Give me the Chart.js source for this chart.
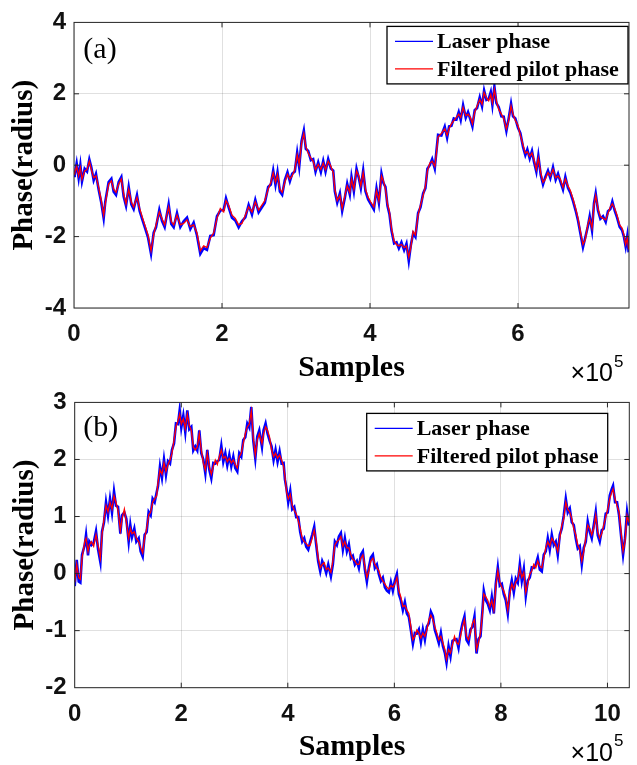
<!DOCTYPE html>
<html><head><meta charset="utf-8">
<script src="https://cdn.jsdelivr.net/npm/chart.js@4.4.1/dist/chart.umd.min.js"></script>
<style>
html,body{margin:0;padding:0;background:#fff;}
#wrap{position:relative;width:637px;height:765px;overflow:hidden;background:#fff;}
canvas{position:absolute;left:0;}
#cA{top:0;}
#cB{top:380px;}
</style></head><body>
<div id="wrap"><canvas id="cA" width="637" height="390"></canvas><canvas id="cB" width="637" height="385"></canvas></div>
<script>
// ---------- data (x in units of 10^5 samples) ----------
const seriesNames = ['Laser phase', 'Filtered pilot phase'];
const xTitle = 'Samples';
const yTitle = 'Phase(radius)';

const xTicksA = [0, 2, 4, 6];
const yTicksA = [-4, -2, 0, 2, 4];
const xTicksB = [0, 2, 4, 6, 8, 10];
const yTicksB = [-2, -1, 0, 1, 2, 3];

const samplesA = [
0,0.009,0.036,0.063,0.086,0.108,0.144,0.176,0.207,0.234,
0.266,0.297,0.333,0.369,0.401,0.423,0.468,0.505,0.536,0.568,
0.604,0.640,0.671,0.703,0.739,0.775,0.806,0.851,0.887,0.928,
0.964,1.000,1.041,1.077,1.108,1.153,1.189,1.225,1.279,1.315,
1.347,1.392,1.437,1.482,1.527,1.572,1.617,1.662,1.707,1.752,
1.797,1.842,1.887,1.932,1.977,2.023,2.054,2.090,2.135,2.180,
2.225,2.270,2.315,2.360,2.405,2.450,2.495,2.579,2.624,2.660,
2.692,2.723,2.750,2.782,2.813,2.849,2.885,2.917,2.948,2.984,
3.016,3.043,3.075,3.106,3.133,3.165,3.201,3.232,3.264,3.300,
3.336,3.368,3.399,3.435,3.471,3.503,3.525,3.557,3.593,3.624,
3.660,3.692,3.727,3.750,3.782,3.818,3.849,3.876,3.908,3.939,
3.975,4.011,4.052,4.088,4.120,4.155,4.182,4.209,4.236,4.263,
4.290,4.326,4.358,4.390,4.425,4.461,4.493,4.524,4.551,4.583,
4.614,4.650,4.682,4.718,4.749,4.776,4.808,4.840,4.875,4.898,
4.920,4.965,5.010,5.042,5.069,5.100,5.132,5.168,5.199,5.226,
5.258,5.294,5.325,5.357,5.384,5.415,5.447,5.483,5.514,5.542,
5.573,5.604,5.632,5.654,5.681,5.708,5.739,5.775,5.807,5.843,
5.874,5.906,5.933,5.964,6.000,6.032,6.068,6.099,6.126,6.158,
6.189,6.216,6.248,6.275,6.307,6.338,6.370,6.405,6.437,6.473,
6.509,6.541,6.572,6.608,6.640,6.676,6.707,6.743,6.779,6.811,
6.843,6.878,6.910,6.942,6.969,7.000,7.027,7.050,7.081,7.113,
7.149,7.185,7.216,7.248,7.275,7.307,7.338,7.374,7.406,7.432,
7.455,7.477,7.495];

const filteredA = [
-0.25,-0.21,-0.03,-0.30,-0.07,-0.39,-0.16,-0.12,0.11,-0.12,
-0.35,-0.30,-0.62,-0.99,-1.40,-1.08,-0.53,-0.44,-0.67,-0.76,
-0.53,-0.39,-0.80,-1.08,-0.67,-1.03,-1.17,-0.90,-1.21,-1.49,
-1.72,-1.95,-2.40,-1.95,-1.67,-1.31,-1.49,-1.67,-1.17,-1.58,
-1.67,-1.40,-1.67,-1.63,-1.53,-1.72,-1.67,-1.90,-2.40,-2.26,
-2.31,-2.04,-1.90,-1.49,-1.21,-1.31,-0.99,-1.12,-1.40,-1.49,
-1.67,-1.63,-1.40,-1.17,-1.31,-1.03,-1.26,-0.99,-0.67,-0.48,
-0.21,-0.48,-0.26,-0.67,-0.76,-0.48,-0.26,-0.39,-0.30,-0.12,
0.29,0.02,0.61,0.89,0.52,0.34,0.20,0.11,-0.12,0.02,
-0.12,0.06,-0.12,0.11,-0.03,-0.21,-0.67,-0.99,-0.85,-1.21,
-0.85,-0.58,-0.76,-0.39,-0.67,-0.16,-0.30,-0.58,-0.21,-0.67,
-0.90,-1.03,-1.17,-0.71,-0.99,-0.30,-0.44,-0.67,-1.08,-1.31,
-1.76,-2.13,-2.22,-2.26,-2.22,-2.31,-2.26,-2.58,-2.31,-1.85,
-1.95,-1.40,-1.12,-0.85,-0.58,-0.16,0.06,0.11,-0.03,0.34,
0.79,0.89,1.02,0.84,1.02,1.16,1.25,1.34,1.43,1.34,
1.62,1.39,1.43,1.34,1.16,1.48,1.66,1.84,1.71,2.03,
1.89,1.80,1.98,1.75,2.12,1.80,1.57,1.43,1.30,1.02,
1.25,1.66,1.43,1.25,1.11,0.84,0.57,0.34,0.38,0.25,
0.34,0.16,-0.12,0.20,-0.21,-0.48,-0.39,-0.21,-0.30,-0.12,
-0.35,-0.30,-0.39,-0.62,-0.39,-0.58,-0.71,-0.94,-1.21,-1.49,
-1.85,-2.22,-2.08,-1.67,-1.49,-1.76,-1.12,-0.85,-1.21,-1.44,
-1.49,-1.53,-1.35,-1.17,-1.08,-1.21,-1.40,-1.67,-1.76,-1.95,
-2.22,-2.04,-2.36];

const laserA = [
-0.30,-0.28,0.05,-0.36,0.00,-0.45,-0.10,-0.18,0.16,-0.06,
-0.42,-0.24,-0.68,-1.05,-1.48,-1.02,-0.47,-0.38,-0.74,-0.83,
-0.47,-0.33,-0.88,-1.14,-0.61,-1.10,-1.23,-0.84,-1.28,-1.55,
-1.78,-2.02,-2.48,-1.89,-1.74,-1.25,-1.56,-1.73,-1.10,-1.65,
-1.74,-1.34,-1.73,-1.57,-1.47,-1.79,-1.61,-1.97,-2.48,-2.32,
-2.37,-1.98,-1.96,-1.43,-1.27,-1.25,-0.93,-1.18,-1.47,-1.55,
-1.74,-1.57,-1.46,-1.11,-1.38,-0.97,-1.32,-1.05,-0.61,-0.54,
-0.15,-0.55,-0.20,-0.74,-0.83,-0.42,-0.20,-0.45,-0.24,-0.18,
0.35,-0.05,0.67,0.97,0.46,0.40,0.14,0.17,-0.18,0.08,
-0.19,0.12,-0.18,0.17,-0.09,-0.15,-0.73,-1.05,-0.79,-1.28,
-0.91,-0.52,-0.82,-0.33,-0.73,-0.10,-0.36,-0.64,-0.15,-0.73,
-0.96,-1.09,-1.24,-0.65,-1.05,-0.24,-0.50,-0.61,-1.14,-1.37,
-1.82,-2.19,-2.16,-2.33,-2.16,-2.38,-2.20,-2.68,-2.25,-1.91,
-2.01,-1.34,-1.18,-0.79,-0.64,-0.10,0.00,0.17,-0.09,0.40,
0.85,0.83,1.08,0.77,1.09,1.10,1.31,1.28,1.49,1.27,
1.68,1.33,1.49,1.28,1.09,1.54,1.60,1.90,1.65,2.09,
1.83,1.86,2.05,1.69,2.20,1.74,1.63,1.37,1.36,0.96,
1.31,1.72,1.37,1.31,1.05,0.90,0.51,0.28,0.44,0.19,
0.40,0.10,-0.18,0.26,-0.27,-0.54,-0.33,-0.15,-0.36,-0.06,
-0.41,-0.24,-0.45,-0.68,-0.33,-0.64,-0.77,-1.00,-1.27,-1.55,
-1.91,-2.30,-2.02,-1.73,-1.43,-1.82,-1.06,-0.79,-1.27,-1.50,
-1.43,-1.59,-1.29,-1.23,-1.02,-1.27,-1.46,-1.73,-1.82,-2.01,
-2.28,-1.98,-2.44];

const samplesB = [
0.000,0.038,0.075,0.106,0.138,0.188,0.213,0.250,0.275,0.313,
0.356,0.400,0.438,0.482,0.513,0.550,0.588,0.625,0.663,0.700,
0.738,0.775,0.813,0.857,0.888,0.932,0.969,1.013,1.044,1.076,
1.119,1.157,1.201,1.238,1.276,1.313,1.351,1.388,1.426,1.463,
1.501,1.538,1.563,1.601,1.638,1.676,1.713,1.751,1.789,1.826,
1.864,1.901,1.939,1.970,2.001,2.039,2.076,2.114,2.151,2.189,
2.226,2.264,2.301,2.339,2.376,2.414,2.452,2.489,2.527,2.564,
2.602,2.639,2.677,2.714,2.752,2.789,2.827,2.864,2.902,2.939,
2.977,3.014,3.052,3.089,3.127,3.164,3.202,3.240,3.277,3.315,
3.352,3.390,3.427,3.465,3.515,3.545,3.583,3.620,3.658,3.695,
3.733,3.770,3.808,3.846,3.883,3.921,3.946,3.977,4.008,4.046,
4.083,4.121,4.158,4.196,4.233,4.271,4.308,4.346,4.383,4.421,
4.458,4.496,4.534,4.571,4.609,4.646,4.684,4.721,4.759,4.809,
4.846,4.884,4.921,4.959,4.996,5.034,5.071,5.109,5.146,5.184,
5.221,5.259,5.297,5.334,5.372,5.409,5.447,5.484,5.522,5.559,
5.597,5.634,5.672,5.709,5.747,5.784,5.822,5.860,5.897,5.935,
5.972,6.010,6.047,6.085,6.122,6.160,6.197,6.235,6.272,6.310,
6.348,6.385,6.423,6.460,6.498,6.535,6.573,6.610,6.648,6.685,
6.723,6.760,6.798,6.835,6.873,6.911,6.948,6.979,7.017,7.054,
7.092,7.129,7.166,7.204,7.241,7.279,7.316,7.354,7.391,7.429,
7.467,7.504,7.542,7.579,7.617,7.654,7.679,7.717,7.754,7.792,
7.829,7.867,7.904,7.942,7.979,8.017,8.054,8.092,8.129,8.167,
8.204,8.242,8.279,8.317,8.355,8.392,8.430,8.467,8.505,8.542,
8.580,8.617,8.655,8.692,8.730,8.767,8.805,8.842,8.880,8.917,
8.955,8.992,9.030,9.067,9.105,9.143,9.180,9.218,9.255,9.293,
9.330,9.368,9.405,9.443,9.480,9.518,9.555,9.593,9.630,9.668,
9.705,9.743,9.780,9.818,9.855,9.893,9.930,9.968,10.005,10.043,
10.080,10.105,10.143,10.180,10.218,10.255,10.293,10.330,10.368,10.405];

const filteredB = [
-0.15,0.16,-0.07,-0.10,0.27,0.56,0.62,0.39,0.50,0.56,
0.48,0.68,0.50,0.27,0.68,0.96,1.19,1.08,1.25,1.13,
1.36,1.25,1.11,0.76,0.96,1.13,0.90,0.62,0.79,0.70,
0.73,0.62,0.56,0.45,0.36,0.62,0.79,1.02,1.08,1.25,
1.31,1.36,1.59,1.82,1.74,1.94,1.79,1.91,1.99,2.11,
2.34,2.57,2.68,2.79,2.62,2.71,2.54,2.79,2.59,2.51,
2.22,2.17,2.22,2.45,2.17,1.94,1.82,2.11,1.88,1.74,
1.88,1.99,1.91,2.05,2.17,2.02,2.05,1.96,2.02,1.94,
1.99,1.91,1.85,2.05,2.11,2.28,2.45,2.57,2.62,2.85,
2.39,2.08,2.34,2.45,2.28,2.45,2.57,2.51,2.39,2.17,
2.05,2.11,2.02,2.08,1.99,1.88,1.71,1.42,1.31,1.39,
1.19,1.11,1.05,0.93,0.79,0.62,0.56,0.53,0.48,0.50,
0.62,0.76,0.56,0.27,0.10,0.16,0.19,0.07,0.10,0.02,
0.22,0.50,0.56,0.59,0.65,0.48,0.56,0.45,0.45,0.33,
0.25,0.22,0.16,0.16,0.27,0.33,0.13,-0.07,0.05,0.22,
0.27,0.16,0.10,0.05,-0.07,-0.13,-0.18,-0.24,-0.27,-0.21,
-0.24,-0.18,-0.07,-0.30,-0.41,-0.58,-0.56,-0.64,-0.70,-0.93,
-1.16,-1.10,-0.99,-1.04,-1.13,-1.04,-1.10,-0.99,-0.81,-0.73,
-0.81,-0.93,-1.04,-1.16,-1.10,-1.21,-1.33,-1.50,-1.33,-1.39,
-1.24,-1.10,-1.21,-1.24,-1.10,-0.93,-0.81,-1.10,-1.16,-1.04,
-0.87,-0.81,-1.33,-1.21,-1.04,-0.70,-0.36,-0.41,-0.47,-0.58,
-0.47,-0.64,-0.24,0.05,-0.15,-0.24,-0.30,-0.41,-0.64,-0.36,
-0.18,-0.27,-0.15,-0.10,0.10,-0.07,0.02,-0.33,-0.18,-0.01,
0.05,0.16,0.10,0.22,0.13,0.10,0.27,0.45,0.56,0.48,
0.62,0.56,0.50,0.39,0.62,0.85,0.96,1.25,1.13,1.08,
0.96,0.79,0.68,0.50,0.42,0.22,0.39,0.62,0.85,0.79,
0.68,0.79,1.02,0.73,0.62,0.70,0.85,0.99,1.13,1.31,
1.42,1.48,1.31,1.19,1.08,0.73,0.39,0.56,1.02,0.90];

const laserB = [
-0.22,0.24,-0.14,-0.16,0.33,0.50,0.68,0.32,0.56,0.50,
0.54,0.74,0.43,0.20,0.74,0.90,1.25,1.02,1.31,1.07,
1.44,1.19,1.17,0.70,1.02,1.07,0.96,0.56,0.85,0.64,
0.79,0.56,0.62,0.39,0.30,0.68,0.73,1.08,1.02,1.31,
1.25,1.42,1.53,1.88,1.68,2.00,1.73,1.97,1.93,2.17,
2.28,2.63,2.62,2.86,2.56,2.77,2.48,2.86,2.53,2.57,
2.16,2.23,2.16,2.51,2.11,2.00,1.76,2.17,1.82,1.67,
1.94,1.93,1.97,1.99,2.24,1.96,2.11,1.90,2.08,1.88,
2.05,1.85,1.79,2.11,2.05,2.34,2.39,2.63,2.56,2.92,
2.33,2.02,2.40,2.51,2.22,2.51,2.63,2.45,2.33,2.23,
1.99,2.17,1.96,2.14,1.93,1.94,1.65,1.48,1.25,1.45,
1.13,1.17,0.99,0.99,0.73,0.56,0.62,0.47,0.42,0.56,
0.68,0.82,0.50,0.21,0.04,0.22,0.13,0.01,0.16,-0.05,
0.16,0.56,0.50,0.65,0.71,0.42,0.62,0.39,0.51,0.27,
0.31,0.16,0.22,0.10,0.33,0.39,0.07,-0.14,0.11,0.28,
0.33,0.10,0.16,-0.01,-0.13,-0.07,-0.24,-0.30,-0.33,-0.15,
-0.30,-0.12,-0.01,-0.36,-0.47,-0.64,-0.50,-0.70,-0.76,-0.99,
-1.23,-1.04,-1.05,-0.98,-1.20,-0.98,-1.16,-0.93,-0.87,-0.67,
-0.75,-0.99,-1.10,-1.22,-1.04,-1.27,-1.39,-1.56,-1.27,-1.45,
-1.18,-1.16,-1.15,-1.30,-1.04,-0.87,-0.75,-1.16,-1.22,-0.98,
-0.93,-0.75,-1.40,-1.15,-1.10,-0.64,-0.30,-0.47,-0.53,-0.64,
-0.41,-0.70,-0.18,0.11,-0.21,-0.18,-0.36,-0.47,-0.70,-0.30,
-0.12,-0.33,-0.09,-0.16,0.16,-0.13,0.08,-0.39,-0.12,-0.07,
0.11,0.10,0.16,0.28,0.07,0.04,0.33,0.39,0.62,0.42,
0.68,0.50,0.56,0.33,0.68,0.79,1.02,1.31,1.07,1.14,
0.90,0.85,0.62,0.44,0.48,0.16,0.45,0.56,0.91,0.73,
0.62,0.85,1.08,0.67,0.56,0.76,0.79,1.05,1.07,1.37,
1.48,1.54,1.25,1.25,1.02,0.67,0.33,0.62,1.08,0.84];

// ---------- plugins ----------
const framePlugin = {
  id: 'frame',
  afterDatasetsDraw(chart) {
    const {ctx, chartArea: a, scales: {x, y}} = chart;
    ctx.save();
    ctx.strokeStyle = '#262626';
    ctx.lineWidth = 1;
    ctx.strokeRect(a.left, a.top, a.right - a.left, a.bottom - a.top);
    ctx.beginPath();
    const L = 5;
    x.ticks.forEach(t => {
      if (t.value <= x.min || t.value >= x.max) return;
      const px = x.getPixelForValue(t.value);
      ctx.moveTo(px, a.bottom); ctx.lineTo(px, a.bottom - L);
      ctx.moveTo(px, a.top); ctx.lineTo(px, a.top + L);
    });
    y.ticks.forEach(t => {
      if (t.value <= y.min || t.value >= y.max) return;
      const py = y.getPixelForValue(t.value);
      ctx.moveTo(a.left, py); ctx.lineTo(a.left + L, py);
      ctx.moveTo(a.right, py); ctx.lineTo(a.right - L, py);
    });
    ctx.stroke();
    ctx.restore();
  }
};

const legendBoxPlugin = {
  id: 'legendBox',
  afterDraw(chart, args, o) {
    const {ctx, chartArea: a} = chart;
    const w = 241, h = 57.5;
    const bx = a.right - o.offRight - w, by = a.top + o.offTop;
    ctx.save();
    ctx.fillStyle = '#fff';
    ctx.fillRect(bx, by, w, h);
    ctx.strokeStyle = '#000';
    ctx.lineWidth = 1.3;
    ctx.strokeRect(bx, by, w, h);
    ctx.font = 'bold 22px "Liberation Serif"';
    ctx.textAlign = 'left';
    ctx.textBaseline = 'middle';
    chart.data.datasets.forEach((ds, i) => {
      const ry = by + 15 + i * 27.5;
      ctx.strokeStyle = ds.borderColor;
      ctx.lineWidth = 1.3;
      ctx.beginPath(); ctx.moveTo(bx + 8, ry); ctx.lineTo(bx + 46, ry); ctx.stroke();
      ctx.fillStyle = '#000';
      ctx.fillText(ds.label, bx + 50, ry + 1);
    });
    ctx.restore();
  }
};

const annotPlugin = {
  id: 'annot',
  afterDraw(chart, args, o) {
    const {ctx, chartArea: a} = chart;
    ctx.save();
    ctx.fillStyle = '#000';
    ctx.font = '30px "Liberation Serif"';
    ctx.textAlign = 'center';
    ctx.textBaseline = 'middle';
    ctx.fillText(o.tag, a.left + 26, a.top + o.tagDy);
    // x10^5 exponent
    const ey = a.bottom + 66;
    ctx.font = '25px "Liberation Sans"';
    ctx.textAlign = 'right';
    ctx.fillText('\u00d710', 613, ey);
    ctx.font = '17px "Liberation Sans"';
    ctx.textAlign = 'left';
    ctx.fillText('5', 614, ey - 12);
    ctx.restore();
  }
};

const tickFont = {family: '"Liberation Sans", Arial, sans-serif', weight: 'bold', size: 24};
const titleFont = {family: '"Liberation Serif", "Times New Roman", serif', weight: 'bold', size: 30, lineHeight: 1};
const yTitleFont = {family: '"Liberation Serif", "Times New Roman", serif', weight: 'bold', size: 29, lineHeight: 1};
const gridColor = 'rgba(0,0,0,0.12)';

function buildChart(id, p) {
  const pts = (xs, ys) => xs.map((x, i) => ({x: x, y: ys[i]}));
  return new Chart(document.getElementById(id), {
    type: 'line',
    data: {
      datasets: [
        {label: seriesNames[0], data: pts(p.x, p.laser), borderColor: '#0000ff', borderWidth: 2.6, order: 1, pointRadius: 0, tension: 0, fill: false},
        {label: seriesNames[1], data: pts(p.x, p.filtered), borderColor: '#ff0000', borderWidth: 1.3, order: 0, pointRadius: 0, tension: 0, fill: false}
      ]
    },
    options: {
      responsive: false,
      animation: false,
      devicePixelRatio: 1,
      layout: {padding: {left: 0, top: p.padTop, right: p.padRight, bottom: 0}},
      plugins: {
        legend: {display: false},
        tooltip: {enabled: false},
        legendBox: {offRight: p.legOffRight, offTop: p.legOffTop},
        annot: {tag: p.tag, tagDy: p.tagDy}
      },
      scales: {
        x: {
          type: 'linear', min: 0, max: p.xMax,
          afterFit: s => { s.height = p.xAxisH; },
          afterBuildTicks: s => { s.ticks = p.xTicks.map(v => ({value: v})); },
          grid: {color: gridColor, lineWidth: 1, drawTicks: false},
          border: {display: false},
          ticks: {padding: 12, font: tickFont, color: '#111', autoSkip: false, maxRotation: 0, callback: v => String(v)},
          title: {display: true, text: xTitle, font: titleFont, color: '#000', padding: {top: 0, bottom: p.xAxisH - 75}}
        },
        y: {
          type: 'linear', min: p.yMin, max: p.yMax,
          afterFit: s => { s.width = p.yAxisW; },
          afterBuildTicks: s => { s.ticks = p.yTicks.map(v => ({value: v})); },
          grid: {color: gridColor, lineWidth: 1, drawTicks: false},
          border: {display: false},
          ticks: {padding: 8, font: tickFont, color: '#111', callback: v => String(v)},
          title: {display: true, text: yTitle, font: yTitleFont, color: '#000', padding: {top: p.yTitlePad, bottom: 0}}
        }
      }
    },
    plugins: [framePlugin, legendBoxPlugin, annotPlugin]
  });
}

buildChart('cA', {
  x: samplesA, laser: laserA, filtered: filteredA,
  xTicks: xTicksA, yTicks: yTicksA, xMax: 7.5, yMin: -4, yMax: 4,
  padTop: 16, padRight: 8, yAxisW: 74, xAxisH: 82,
  yTitlePad: 10.5,
  legOffRight: 1, legOffTop: 4, tag: '(a)', tagDy: 27.5
});

buildChart('cB', {
  x: samplesB, laser: laserB, filtered: filteredB,
  xTicks: xTicksB, yTicks: yTicksB, xMax: 10.41, yMin: -2, yMax: 3,
  padTop: 16.7, padRight: 7.7, yAxisW: 74.7, xAxisH: 77.3,
  yTitlePad: 11.5,
  legOffRight: 21.6, legOffTop: 11, tag: '(b)', tagDy: 26
});
</script>
</body></html>
